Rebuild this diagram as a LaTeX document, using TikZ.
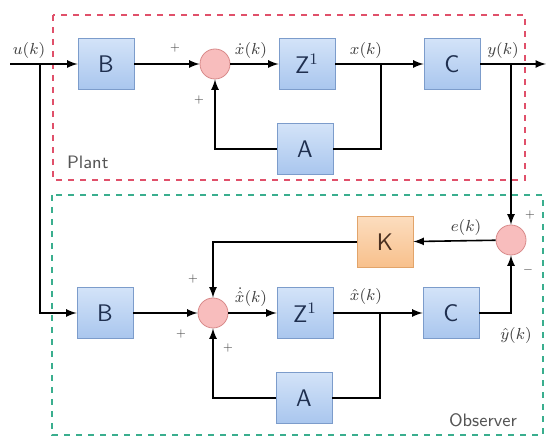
\documentclass[tikz,border=0pt]{standalone}
\usepackage{amsmath}
\definecolor{blkfilla}{HTML}{D3E3F8}
\definecolor{blkfillb}{HTML}{A9C6EE}
\definecolor{blkline}{HTML}{7C9CCB}
\definecolor{blktext}{HTML}{1F2F4F}
\definecolor{kfilla}{HTML}{FCDDBE}
\definecolor{kfillb}{HTML}{F8C08C}
\definecolor{kline}{HTML}{E2A46A}
\definecolor{ktext}{HTML}{4A3020}
\definecolor{sumfill}{HTML}{F8BDBD}
\definecolor{sumline}{HTML}{D88A8A}
\definecolor{plantcol}{HTML}{E0506A}
\definecolor{obscol}{HTML}{3AAE8E}
\definecolor{tagcol}{HTML}{555555}
\begin{document}
\begin{tikzpicture}[x=0.5pt,y=-0.5pt,
    blk/.style={rectangle,draw=blkline,top color=blkfilla,bottom color=blkfillb,
        minimum width=28pt,minimum height=25.5pt,font=\sffamily\large,text=blktext},
    kblk/.style={blk,draw=kline,top color=kfilla,bottom color=kfillb,text=ktext},
    sumc/.style={circle,draw=sumline,fill=sumfill,minimum size=15pt,inner sep=0pt},
    lbl/.style={font=\footnotesize,text=black!75,inner sep=0.5pt},
    sgn/.style={font=\tiny,text=black!70,inner sep=0.5pt},
    tag/.style={font=\sffamily\small,text=tagcol}]
    \useasboundingbox (0,0) rectangle (546,437);

    % frames
    \draw [plantcol,dashed,thick] (53,15) rectangle (525,180);
    \draw [obscol,dashed,thick] (52,195) rectangle (543,435);
    \node [tag,anchor=west] (plant) at (60,162) {Plant};
    \node [tag,anchor=east] (observer) at (524,420) {Observer};

    % plant
    \coordinate (uin) at (10,64);
    \coordinate (usplit) at (40,64);
    \node [blk] (b1) at (106,64) {B};
    \node [sumc] (s1) at (215,64) {};
    \node [blk] (z1) at (307,64) {Z$^{1}$};
    \coordinate (xsplit) at (381,64);
    \node [blk] (c1) at (452,64) {C};
    \coordinate (ysplit) at (511,64);
    \coordinate (yout) at (546,64);
    \node [blk] (a1) at (305,149) {A};

    % observer
    \node [blk] (b2) at (105,313) {B};
    \node [sumc] (s2) at (213,313) {};
    \node [blk] (z2) at (305,313) {Z$^{1}$};
    \coordinate (hsplit) at (380,313);
    \node [blk] (c2) at (451,313) {C};
    \node [blk] (a2) at (304,398) {A};
    \node [kblk] (k) at (385,242) {K};
    \node [sumc] (s3) at (511,240) {};

    % signals
    \node [lbl] (ulbl) at (29,51) {$u(k)$};
    \node [lbl] (dxlbl) at (251,51) {$\dot{x}(k)$};
    \node [lbl] (xlbl) at (366,51) {$x(k)$};
    \node [lbl] (ylbl) at (503,51) {$y(k)$};
    \node [lbl] (dhlbl) at (251,297) {$\dot{\hat{x}}(k)$};
    \node [lbl] (hlbl) at (366,297) {$\hat{x}(k)$};
    \node [lbl] (elbl) at (466,228) {$e(k)$};
    \node [lbl] (yhlbl) at (516,336) {$\hat{y}(k)$};

    \node [sgn] at (175,48) {$+$};
    \node [sgn] at (199,100) {$+$};
    \node [sgn] at (193,279) {$+$};
    \node [sgn] at (181,334) {$+$};
    \node [sgn] at (228,348) {$+$};
    \node [sgn] at (530,215) {$+$};
    \node [sgn] at (528,270) {$-$};

    \draw [thick,-latex] (uin) -- (b1);
    \draw [thick,-latex] (b1) -- (s1);
    \draw [thick,-latex] (s1) -- (z1);
    \draw [thick,-latex] (z1) -- (c1);
    \draw [thick,-latex] (c1) -- (yout);
    \draw [thick] (xsplit) |- (a1);
    \draw [thick,-latex] (a1) -| (s1);
    \draw [thick,-latex] (ysplit) -- (s3);

    \draw [thick,-latex] (usplit) |- (b2);
    \draw [thick,-latex] (b2) -- (s2);
    \draw [thick,-latex] (s2) -- (z2);
    \draw [thick,-latex] (z2) -- (c2);
    \draw [thick,-latex] (c2) -| (s3);
    \draw [thick] (hsplit) |- (a2);
    \draw [thick,-latex] (a2) -| (s2);
    \draw [thick,-latex] (s3) -- (k);
    \draw [thick,-latex] (k) -| (s2);
\end{tikzpicture}
\end{document}
